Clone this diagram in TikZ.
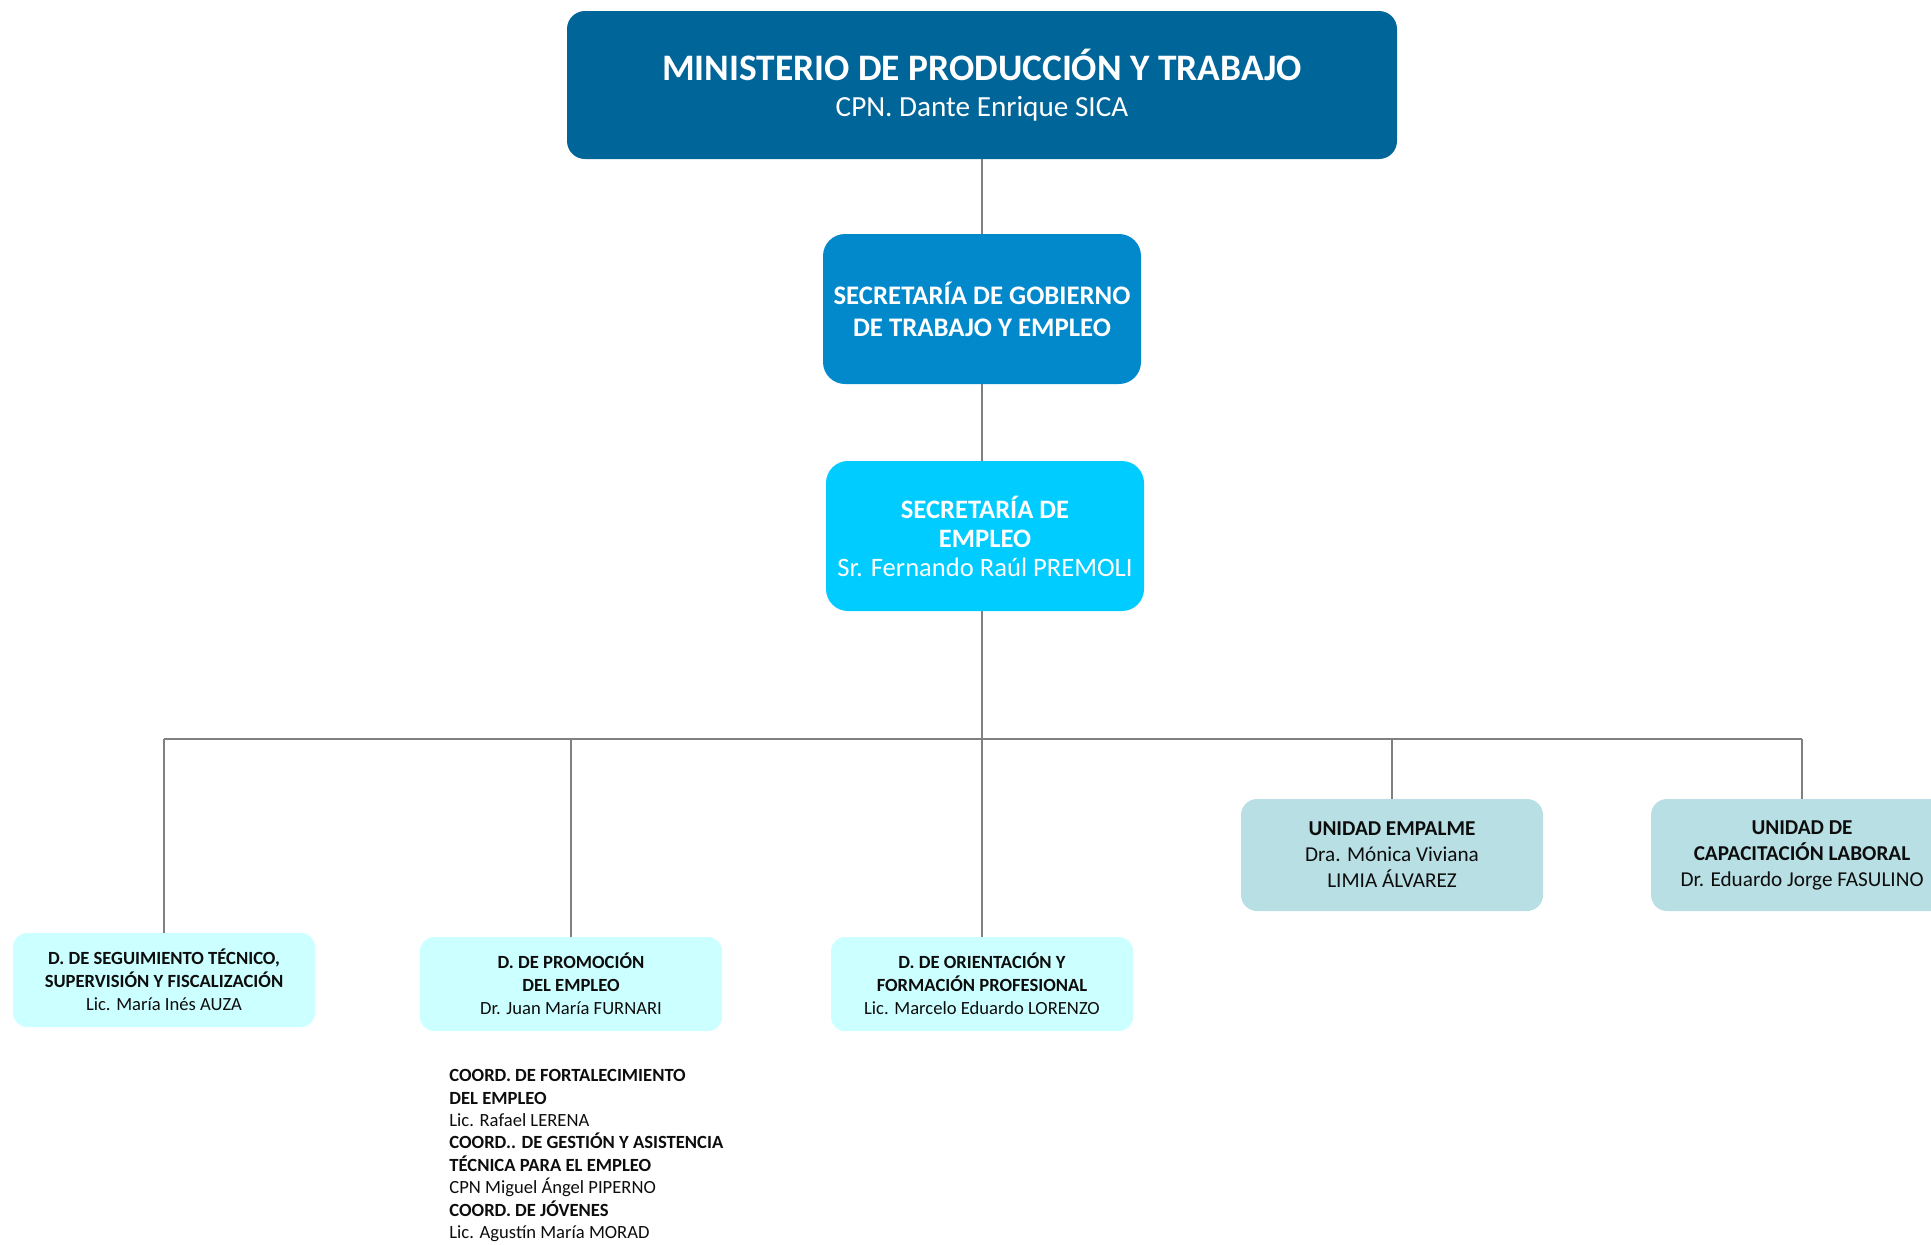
\documentclass[tikz,border=0pt]{standalone}
\usepackage{fontspec}
\setmainfont{Carlito}
\usetikzlibrary{positioning}
\definecolor{ministerio}{RGB}{0,101,153}
\definecolor{gobierno}{RGB}{2,137,204}
\definecolor{secempleo}{RGB}{0,204,255}
\definecolor{direccion}{RGB}{204,255,255}
\definecolor{unidad}{RGB}{184,223,228}
\definecolor{linea}{RGB}{128,128,128}
\definecolor{texto}{RGB}{13,13,13}

\begin{document}
\begin{tikzpicture}[x=0.5pt, y=-0.5pt] %Organigrama
			\tikzstyle{topbox} = [rectangle, rounded corners=9pt, minimum width=415pt, minimum height=74pt, align=center, fill=ministerio, text=white, inner sep=0pt]
			\tikzstyle{secbox} = [rectangle, rounded corners=11pt, minimum width=159pt, minimum height=75pt, align=center, text=white, inner sep=0pt, font=\fontsize{13.4}{16}\selectfont\bfseries]
			\tikzstyle{dirbox} = [rectangle, rounded corners=7pt, minimum width=151pt, minimum height=47pt, align=center, fill=direccion, text=texto, inner sep=0pt, font=\fontsize{9.3}{11.4}\selectfont]
			\tikzstyle{unibox} = [rectangle, rounded corners=8pt, minimum width=151pt, minimum height=56pt, align=center, fill=unidad, text=texto, inner sep=0pt, font=\fontsize{10.6}{13}\selectfont]
			\tikzstyle{conn} = [draw=linea, line width=0.7pt]
			\useasboundingbox (0,0) rectangle (1931,1244);
			\node[topbox] (MIN) at (982,85) {{\fontsize{18.7}{20}\selectfont\bfseries MINISTERIO DE PRODUCCIÓN Y TRABAJO}\\[6pt]{\fontsize{14.6}{16}\selectfont CPN. Dante Enrique SICA}};
			\node[secbox, fill=gobierno] (SGTE) at (982,309) {SECRETARÍA DE GOBIERNO\\DE TRABAJO Y EMPLEO};
			\node[secbox, fill=secempleo, font=\fontsize{13.3}{14.5}\selectfont] (SE) at (985,536) {\textbf{SECRETARÍA DE}\\\textbf{EMPLEO}\\Sr. Fernando Raúl PREMOLI};
			\draw[conn] (MIN) -- (SGTE);
			\draw[conn] (SGTE.south) -- (SGTE.south |- SE.north);
			% direcciones y unidades
			\node[dirbox] (DSeg) at (164,980) {\textbf{D. DE SEGUIMIENTO TÉCNICO,}\\\textbf{SUPERVISIÓN Y FISCALIZACIÓN}\\Lic. María Inés AUZA};
			\node[dirbox] (DProm) at (571,984) {\textbf{D. DE PROMOCIÓN}\\\textbf{DEL EMPLEO}\\Dr. Juan María FURNARI};
			\node[dirbox] (DOrient) at (982,984) {\textbf{D. DE ORIENTACIÓN Y}\\\textbf{FORMACIÓN PROFESIONAL}\\Lic. Marcelo Eduardo LORENZO};
			\node[unibox] (UEmp) at (1392,855) {\textbf{UNIDAD EMPALME}\\Dra. Mónica Viviana\\LIMIA ÁLVAREZ};
			\node[unibox] (UCap) at (1802,855) {\textbf{UNIDAD DE}\\\textbf{CAPACITACIÓN LABORAL}\\Dr. Eduardo Jorge FASULINO};
			\coordinate (bus) at (982,739);
			\draw[conn] (bus |- SE.south) -- (bus);
			\draw[conn] (bus -| DSeg.north) -- (bus -| UCap.north);
			\foreach \name in {DSeg, DProm, DOrient, UEmp, UCap}
			{
				\draw[conn] (bus -| \name.north) -- (\name.north);
			}
			% coordinaciones
			\node[anchor=north west, align=left, text=texto, inner sep=0pt, font=\fontsize{9.3}{11.2}\selectfont] (Coord) at (449,1069) {\textbf{COORD. DE FORTALECIMIENTO}\\\textbf{DEL EMPLEO}\\Lic. Rafael LERENA\\\textbf{COORD.. DE GESTIÓN Y ASISTENCIA}\\\textbf{TÉCNICA PARA EL EMPLEO}\\CPN Miguel Ángel PIPERNO\\\textbf{COORD. DE JÓVENES}\\Lic. Agustín María MORAD};
\end{tikzpicture}
\end{document}
